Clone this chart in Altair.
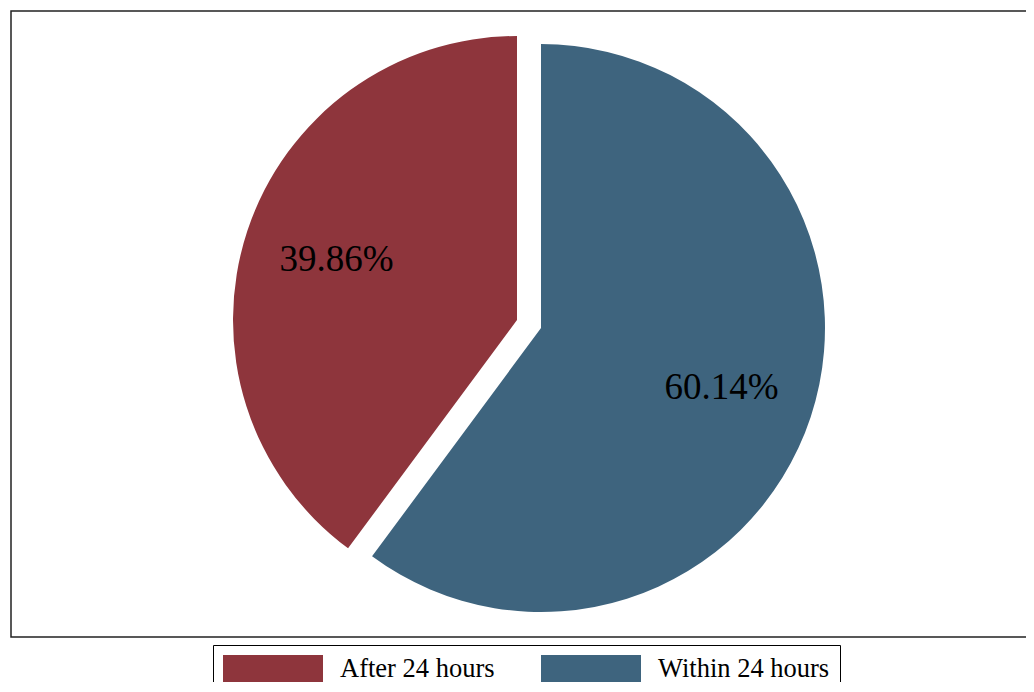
import altair as alt
import pandas as pd

# ---- data ----
categories = ["Within 24 hours", "After 24 hours"]
shares = [60.14, 39.86]
labels = ["60.14%", "39.86%"]
order = [1, 2]

legend_domain = ["After 24 hours", "Within 24 hours"]
legend_colors = ["#8E353C", "#3E647E"]

df = pd.DataFrame({"category": categories, "share": shares, "label": labels, "order": order})

FONT = "Liberation Serif"
CX, CY, R = 530, 317, 284          # pie centre (view coords) and radius
EX, EY = -24, -8                   # explode offset of the "After" slice
W, H = 1015, 626

theta_scale = alt.Scale(domain=[0, 100])
color_enc = alt.Color(
    "category:N",
    scale=alt.Scale(domain=legend_domain, range=legend_colors),
    legend=alt.Legend(
        orient="none", legendX=202, legendY=634, direction="horizontal", columns=2,
        title=None, symbolType="M-1,-0.28L1,-0.28L1,0.28L-1,0.28Z", symbolSize=10000,
        symbolStrokeWidth=0, symbolOpacity=1, clipHeight=28,
        labelFont=FONT, labelFontSize=26.5, labelColor="black", labelOffset=17,
        labelLimit=400, columnPadding=46, padding=10, strokeColor="black", fillColor="white",
    ),
)

base = (
    alt.Chart(df)
    .transform_window(cum="sum(share)", sort=[alt.SortField("order")], frame=[None, 0])
    .transform_calculate(start="datum.cum - datum.share", mid="datum.cum - datum.share/2")
)

within = base.transform_filter(alt.datum.category == "Within 24 hours")
after = base.transform_filter(alt.datum.category == "After 24 hours")

# outer frame; its right side runs past the picture's edge, as in the reference
frame = alt.Chart(df).mark_rect(fill=None, stroke="#222222", strokeWidth=1.5).encode(
    x=alt.value(0), x2=alt.value(W + 30), y=alt.value(0), y2=alt.value(H)
).transform_filter(alt.datum.order == 1)

arc_within = within.mark_arc(x=CX, y=CY, outerRadius=R).encode(
    theta=alt.Theta("start:Q", scale=theta_scale, stack=False), theta2="cum:Q", color=color_enc
)
arc_after = after.mark_arc(x=CX, y=CY, outerRadius=R, xOffset=EX, yOffset=EY).encode(
    theta=alt.Theta("start:Q", scale=theta_scale, stack=False), theta2="cum:Q", color=color_enc
)
txt_within = within.mark_text(x=CX, y=CY, radius=190, font=FONT, fontSize=37, color="black").encode(
    theta=alt.Theta("mid:Q", scale=theta_scale, stack=False), text="label:N"
)
txt_after = after.mark_text(x=CX, y=CY, radius=190, font=FONT, fontSize=37, color="black",
                            xOffset=EX, yOffset=EY).encode(
    theta=alt.Theta("mid:Q", scale=theta_scale, stack=False), text="label:N"
)

chart = (
    alt.layer(frame, arc_within, arc_after, txt_within, txt_after)
    .properties(
        width=W, height=H,
        autosize=alt.AutoSizeParams(type="none"),
        padding={"left": 3, "top": 3, "right": 0, "bottom": 45},
        background="white",
    )
    .configure_view(stroke=None)
)

chart.save("out.html", embed_options={"renderer": "svg", "actions": False})
